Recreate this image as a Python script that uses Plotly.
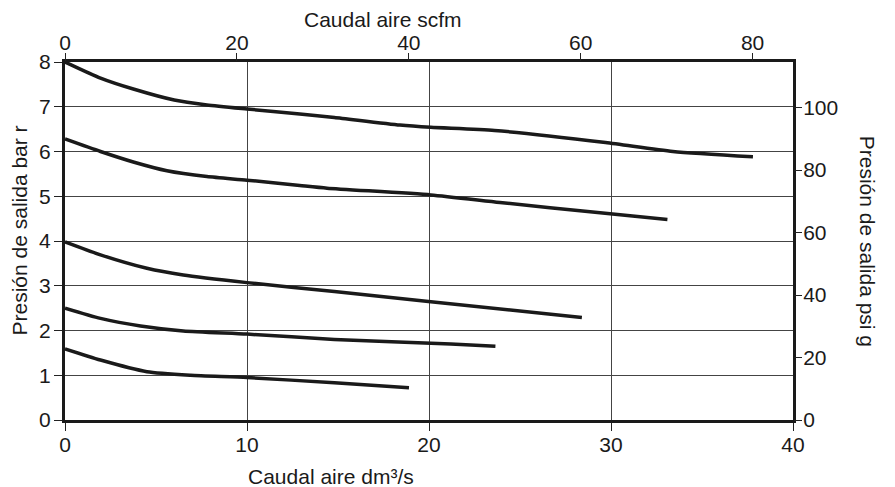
import plotly.graph_objects as go

# Flow (dm3/s) and outlet pressure (bar) for each set-pressure curve
flow_8 = [0, 1.95, 3.8, 6.0, 7.8, 10.0, 12.9, 14.8, 18.4, 20.1, 23.6, 29.7, 33.4, 37.8]
pres_8 = [8.0, 7.64, 7.39, 7.15, 7.04, 6.95, 6.84, 6.76, 6.59, 6.54, 6.47, 6.2, 6.0, 5.88]

flow_63 = [0, 1.95, 3.8, 5.6, 7.8, 10.0, 12.9, 14.4, 20.1, 23.9, 29.4, 33.1]
pres_63 = [6.28, 6.0, 5.76, 5.57, 5.44, 5.36, 5.24, 5.18, 5.03, 4.86, 4.63, 4.48]

flow_4 = [0, 1.95, 4.5, 6.5, 10.0, 14.8, 20.1, 28.4]
pres_4 = [3.98, 3.69, 3.39, 3.24, 3.07, 2.87, 2.64, 2.29]

flow_25 = [0, 1.95, 4.15, 6.5, 10.0, 14.8, 21.2, 23.65]
pres_25 = [2.5, 2.27, 2.1, 1.99, 1.92, 1.8, 1.7, 1.65]

flow_16 = [0, 1.95, 4.5, 6.9, 10.0, 14.8, 18.9]
pres_16 = [1.59, 1.34, 1.08, 1.0, 0.95, 0.83, 0.72]

bottom_ticks = [0, 10, 20, 30, 40]
top_ticks = [0, 20, 40, 60, 80]
left_ticks = [0, 1, 2, 3, 4, 5, 6, 7, 8]
right_ticks = [0, 20, 40, 60, 80, 100]

series = [(flow_8, pres_8), (flow_63, pres_63), (flow_4, pres_4),
          (flow_25, pres_25), (flow_16, pres_16)]

FONT = "Liberation Sans, Arial, Helvetica, sans-serif"
FS = 21
OFF = 8  # default body margin of the page

fig = go.Figure()
for fx, py in series:
    fig.add_trace(go.Scatter(x=fx, y=py, mode="lines",
                             line=dict(color="#1a1a1a", width=3.5, shape="spline", smoothing=0.6),
                             showlegend=False, hoverinfo="skip"))
# invisible trace to activate secondary axes
fig.add_trace(go.Scatter(x=[0], y=[0], xaxis="x2", yaxis="y2", mode="markers",
                         marker=dict(opacity=0), showlegend=False, hoverinfo="skip"))

W, H = 895 - OFF, 487 - OFF
L, R, T, B = 64.5 - OFF, 102.3, 62 - OFF, 67

tickfont = dict(family=FONT, size=FS, color="#1a1a1a")
common = dict(ticks="outside", ticklen=8, tickcolor="#222", tickwidth=1.2,
              zeroline=False, tickfont=tickfont, automargin=False)
fig.update_layout(
    width=W, height=H,
    margin=dict(l=L, r=R, t=T, b=B, autoexpand=False),
    paper_bgcolor="white", plot_bgcolor="white",
    font=dict(family=FONT, color="#1a1a1a"),
    xaxis=dict(range=[0, 40], tickvals=bottom_ticks,
               showgrid=True, gridcolor="#444", gridwidth=1.2,
               showline=True, linecolor="#1a1a1a", linewidth=3, mirror=True,
               ticklabelstandoff=-4, **common),
    xaxis2=dict(range=[0, 84.7], tickvals=top_ticks, overlaying="x", side="top",
                showgrid=False, showline=False, ticklabelstandoff=-5, **common),
    yaxis=dict(range=[0, 8], tickvals=left_ticks,
               showgrid=True, gridcolor="#444", gridwidth=1.2,
               showline=True, linecolor="#1a1a1a", linewidth=3, mirror=True,
               ticklabelstandoff=-1, **common),
    yaxis2=dict(range=[0, 114.6], tickvals=right_ticks, overlaying="y", side="right",
                showgrid=False, showline=False, ticklabelstandoff=-3, **common),
)

# axis titles placed at window-pixel positions
titles = [
    ("Caudal aire scfm", 383, 19, 0),
    ("Caudal aire dm³/s", 331, 476, 0),
    ("Presión de salida bar r", 18, 231, -90),
    ("Presión de salida psi g", 868, 241, 90),
]
pw, ph = W - L - R, H - T - B
for text, px, py, ang in titles:
    fig.add_annotation(text=text, showarrow=False, textangle=ang,
                       xref="paper", yref="paper",
                       x=(px - OFF - L) / pw, y=(H - B - (py - OFF)) / ph,
                       xanchor="center", yanchor="middle",
                       font=dict(family=FONT, size=FS, color="#1a1a1a"))

fig.write_html("out.html")
